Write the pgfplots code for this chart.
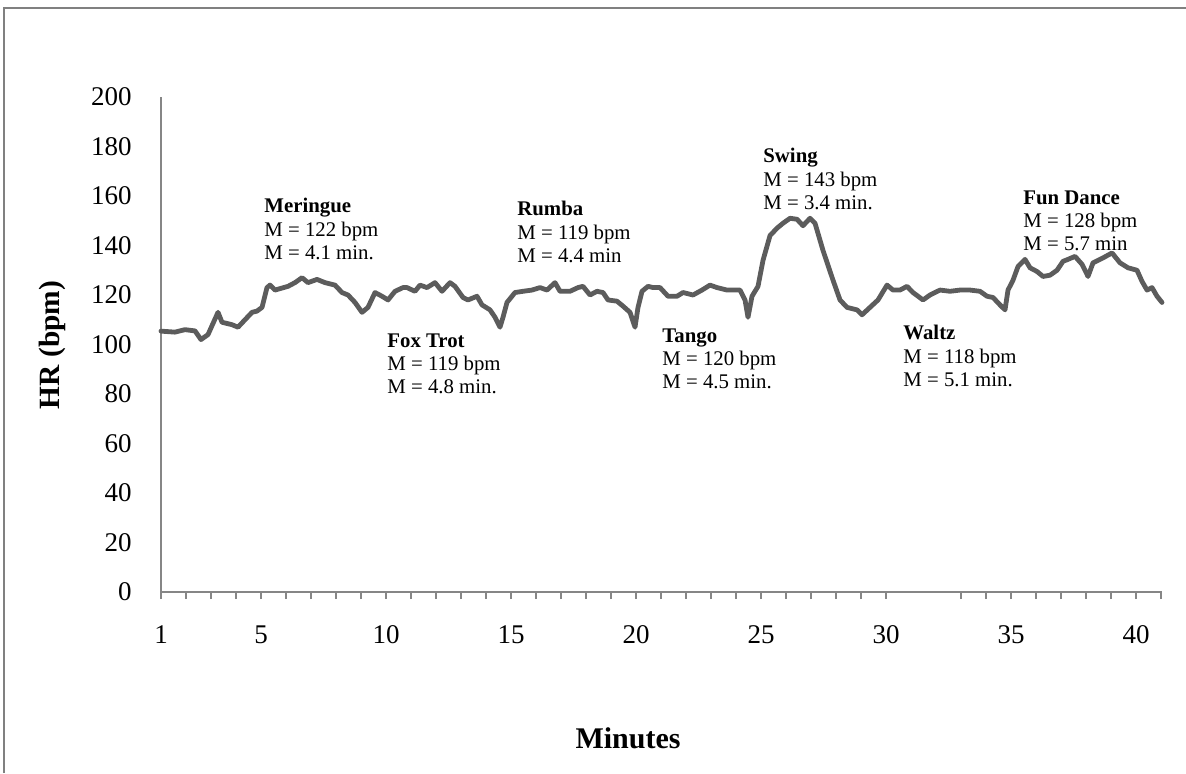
\documentclass[border=0pt]{standalone}
\usepackage{fontspec}
\setmainfont{Liberation Serif}
\usepackage{pgfplots}
\pgfplotsset{compat=1.18}
\definecolor{lineg}{RGB}{92,92,92}
\definecolor{axg}{RGB}{134,134,134}
\definecolor{frameg}{RGB}{128,128,128}
\pgfplotstableread{
x y
1.00 105.4
1.56 105
1.96 106
2.36 105.5
2.60 102
2.88 104
3.28 113
3.44 109
3.84 108
4.08 107
4.36 110
4.64 113
4.84 113.5
5.04 115
5.24 123
5.36 124
5.56 122
6.08 123.5
6.36 125
6.64 127
6.88 125
7.24 126.3
7.56 125
7.96 124
8.24 121
8.48 120
8.76 117
9.04 113
9.28 115
9.56 121
9.84 119.5
10.08 118
10.36 121.5
10.68 123
10.84 123
11.16 121.5
11.36 124
11.64 123
11.96 125
12.24 121.5
12.56 125
12.76 123.5
13.08 119
13.28 118
13.64 119.5
13.84 116
14.16 114
14.36 111
14.56 107
14.68 111
14.84 117
15.16 121
15.48 121.5
15.84 122
16.16 123
16.44 122
16.76 125
16.96 121.5
17.36 121.5
17.68 123
17.88 123.5
18.16 120
18.44 121.5
18.68 121
18.88 118
19.24 117.5
19.48 115.5
19.76 113
19.96 107
20.08 115
20.24 121.5
20.48 123.5
20.68 123
20.96 123
21.28 119.5
21.64 119.5
21.88 121
22.28 120
22.64 122
22.96 124
23.24 123
23.64 122
24.16 122
24.36 118
24.48 111
24.64 119.5
24.88 123.5
25.08 134
25.36 144
25.64 147
25.88 149
26.16 151
26.44 150.6
26.68 148
26.96 151
27.16 149
27.48 138
27.88 126
28.16 118
28.44 115
28.84 114
29.04 112
29.36 115
29.68 118
30.04 124
30.28 122
30.56 122
30.84 123.5
31.08 121
31.48 118
31.76 120
32.16 122
32.56 121.5
32.96 122
33.36 122
33.76 121.5
34.04 119.5
34.28 119
34.56 116
34.76 114
34.88 122
35.08 126
35.28 131.5
35.56 134.4
35.76 131
36.04 129.5
36.28 127.5
36.56 128
36.84 130
37.08 133.6
37.28 134.4
37.56 135.6
37.84 132.4
38.08 127.5
38.28 133
38.68 135
39.04 137
39.36 133
39.68 131
40.04 130
40.24 125.5
40.44 122
40.64 123
40.84 119.5
41.04 117
}\hrdata
\begin{document}
\begin{tikzpicture}
\path[use as bounding box] (0,0) rectangle (593pt,386.5pt);
\draw[frameg, line width=1.1pt] (2pt,0) -- (2pt,382.5pt) -- (593pt,382.5pt);
\begin{axis}[
  at={(80.5pt,90.5pt)}, anchor=south west,
  scale only axis, width=500.5pt, height=247.5pt,
  xmin=1, xmax=41.04, ymin=0, ymax=200,
  axis lines*=left,
  axis line style={axg, line width=0.75pt},
  xtick={1,5,10,15,20,25,30,35,40},
  minor xtick={2,3,4,6,7,8,9,11,12,13,14,16,17,18,19,21,22,23,24,26,27,28,29,33,34,36,37,38,39,41},
  tick align=outside,
  major tick length=3.5pt, minor tick length=3.5pt,
  xtick style={axg, line width=0.75pt},
  ytick={0,20,...,200},
  ytick style={draw=none},
  ticklabel style={font=\fontsize{13.5}{13.5}\selectfont, inner sep=0pt},
  /pgf/number format/assume math mode=true,
  xticklabel style={yshift=-13pt},
  yticklabel style={xshift=-11pt},
  clip=false,
]
\addplot[lineg, line width=2.4pt, line join=round, line cap=round] table[x=x, y=y] {\hrdata};
\end{axis}
\node[rotate=90, font=\bfseries\fontsize{14.7}{14.7}\selectfont] at (26pt,214pt) {HR (bpm)};
\node[font=\bfseries\fontsize{15}{15}\selectfont] at (314pt,17.5pt) {Minutes};
\tikzset{ann/.style={anchor=north west, inner sep=0pt, align=left, font=\fontsize{10.4}{11.6}\selectfont}}
\node[ann] at (132pt,287.5pt) {\textbf{Meringue}\\M = 122 bpm\\M = 4.1 min.};
\node[ann] at (193.5pt,220pt) {\textbf{Fox Trot}\\M = 119 bpm\\M = 4.8 min.};
\node[ann] at (258.5pt,286pt) {\textbf{Rumba}\\M = 119 bpm\\M = 4.4 min};
\node[ann] at (331pt,222.5pt) {\textbf{Tango}\\M = 120 bpm\\M = 4.5 min.};
\node[ann] at (381.5pt,312.5pt) {\textbf{Swing}\\M = 143 bpm\\M = 3.4 min.};
\node[ann] at (451.5pt,224pt) {\textbf{Waltz}\\M = 118 bpm\\M = 5.1 min.};
\node[ann] at (511.5pt,291.5pt) {\textbf{Fun Dance}\\M = 128 bpm\\M = 5.7 min};
\end{tikzpicture}
\end{document}
